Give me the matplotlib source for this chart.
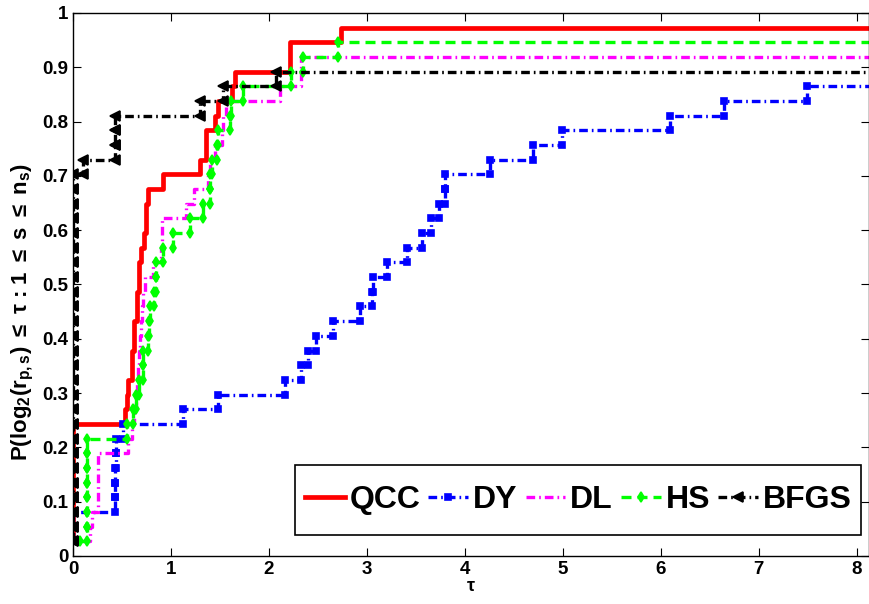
import numpy as np
import matplotlib
matplotlib.use('Agg')
import matplotlib.pyplot as plt
from matplotlib.patches import Rectangle

plt.rcParams['font.family'] = ['Liberation Sans', 'DejaVu Sans']
plt.rcParams['mathtext.fontset'] = 'custom'
plt.rcParams['mathtext.rm'] = 'Liberation Sans:bold'
plt.rcParams['mathtext.it'] = 'Liberation Sans:bold'
plt.rcParams['mathtext.bf'] = 'Liberation Sans:bold'

n_problems = 37
inf = np.inf

# log2 performance ratios (inf = not solved)
qcc = [0]*9 + [0.53, 0.55, 0.565, 0.60, 0.60, 0.62, 0.62, 0.65, 0.65, 0.67, 0.67,
               0.69, 0.72, 0.745, 0.745, 0.77, 0.92, 1.30, 1.36, 1.36, 1.45, 1.48,
               1.62, 1.65, 2.21, 2.21, 2.74, inf]
dy = [0]*3 + [0.43, 0.43, 0.43, 0.44, 0.44, 0.51, 1.125, 1.48, 2.16, 2.33, 2.40,
              2.48, 2.656, 2.93, 3.05, 3.06, 3.20, 3.405, 3.558, 3.65, 3.74, 3.80,
              3.80, 4.255, 4.70, 4.99, 6.09, 6.64, 7.49, inf, inf, inf, inf, inf]
dl = [0.10, 0.17, 0.19, 0.26, 0.26, 0.26, 0.26, 0.565, 0.60, 0.62, 0.64, 0.65, 0.66,
      0.67, 0.68, 0.69, 0.70, 0.71, 0.73, 0.82, 0.90, 0.905, 0.91, 1.15, 1.24, 1.38,
      1.40, 1.45, 1.52, 1.53, 1.56, 2.11, 2.33, 2.33, inf, inf, inf]
hs = [0.07] + [0.14]*7 + [0.55, 0.61, 0.64, 0.67, 0.71, 0.71, 0.77, 0.78, 0.79, 0.83,
                          0.85, 0.85, 0.92, 1.02, 1.19, 1.33, 1.40, 1.40, 1.42, 1.47,
                          1.48, 1.60, 1.61, 1.74, 2.23, 2.35, 2.70, inf, inf]
bfgs = [0]*26 + [0.10, 0.43, 0.43, 0.43, 1.30, 1.53, 2.07, inf, inf, inf, inf]

solvers = ['QCC', 'DY', 'DL', 'HS', 'BFGS']
data = [qcc, dy, dl, hs, bfgs]
colors = ['#ff0000', '#0000ff', '#ff00ff', '#00ff00', '#000000']
dashdot = (0, (2.6, 1.2, 0.5, 1.2))
styles = ['-', dashdot, dashdot, (0, (3.0, 1.8)), dashdot]
markers = [None, 's', None, 'd', '<']
msizes = [0, 4.5, 0, 4.8, 6.5]
widths = [3.4, 2.4, 2.4, 2.4, 2.4]

fig = plt.figure(figsize=(8.69, 6.04), dpi=100)
ax = fig.add_axes([0.084, 0.0795, 0.9155, 0.899])

for name, r, c, ls, m, ms, lw in zip(solvers, data, colors, styles, markers, msizes, widths):
    r = np.sort(np.array(r, dtype=float))
    r[np.isinf(r)] = 20.0
    y = np.arange(1, n_problems + 1) / n_problems
    # matlab stairs vertices
    xs = np.concatenate([[r[0]], np.repeat(r[1:], 2)])
    ys = np.concatenate([[y[0]], np.column_stack([y[:-1], y[1:]]).ravel()])
    ax.plot(xs, ys, color=c, linestyle=ls, linewidth=lw, marker=m, markersize=ms,
            markeredgecolor=c, markerfacecolor=c, markeredgewidth=1.2, label=name)

ax.set_xlim(0, 8.12)
ax.set_ylim(0, 1)
ax.set_xticks(range(0, 9))
ax.set_yticks(np.arange(0, 1.01, 0.1))
ax.set_yticklabels(['0', '0.1', '0.2', '0.3', '0.4', '0.5', '0.6', '0.7', '0.8', '0.9', '1'])
ax.tick_params(direction='in', top=True, right=True, length=6, labelsize=13.5)
for lab in ax.get_xticklabels() + ax.get_yticklabels():
    lab.set_fontweight('bold')
for s in ax.spines.values():
    s.set_linewidth(1.0)

ax.set_xlabel(r'$\tau$', fontsize=13, labelpad=0)
ax.set_ylabel(r'P(log$_2$(r$_{p,s}$) $\leq$ $\tau$ : 1 $\leq$ s $\leq$ n$_s$)',
              fontsize=16, fontweight='bold')
ax.yaxis.set_label_coords(-0.046, 0.45)

# legend box drawn separately (matlab style: wide vertical padding)
box = Rectangle((0.279, 0.0387), 0.712, 0.129, transform=ax.transAxes,
                facecolor='white', edgecolor='black', linewidth=1.2, zorder=4.5)
ax.add_patch(box)
leg = ax.legend(loc='center', bbox_to_anchor=(0.635, 0.103), borderaxespad=0,
                ncol=5, prop={'weight': 'bold', 'size': 23}, frameon=False,
                handlelength=1.25, handletextpad=0.15, columnspacing=0.25,
                borderpad=0.2)

plt.savefig('out.png', dpi=100)
